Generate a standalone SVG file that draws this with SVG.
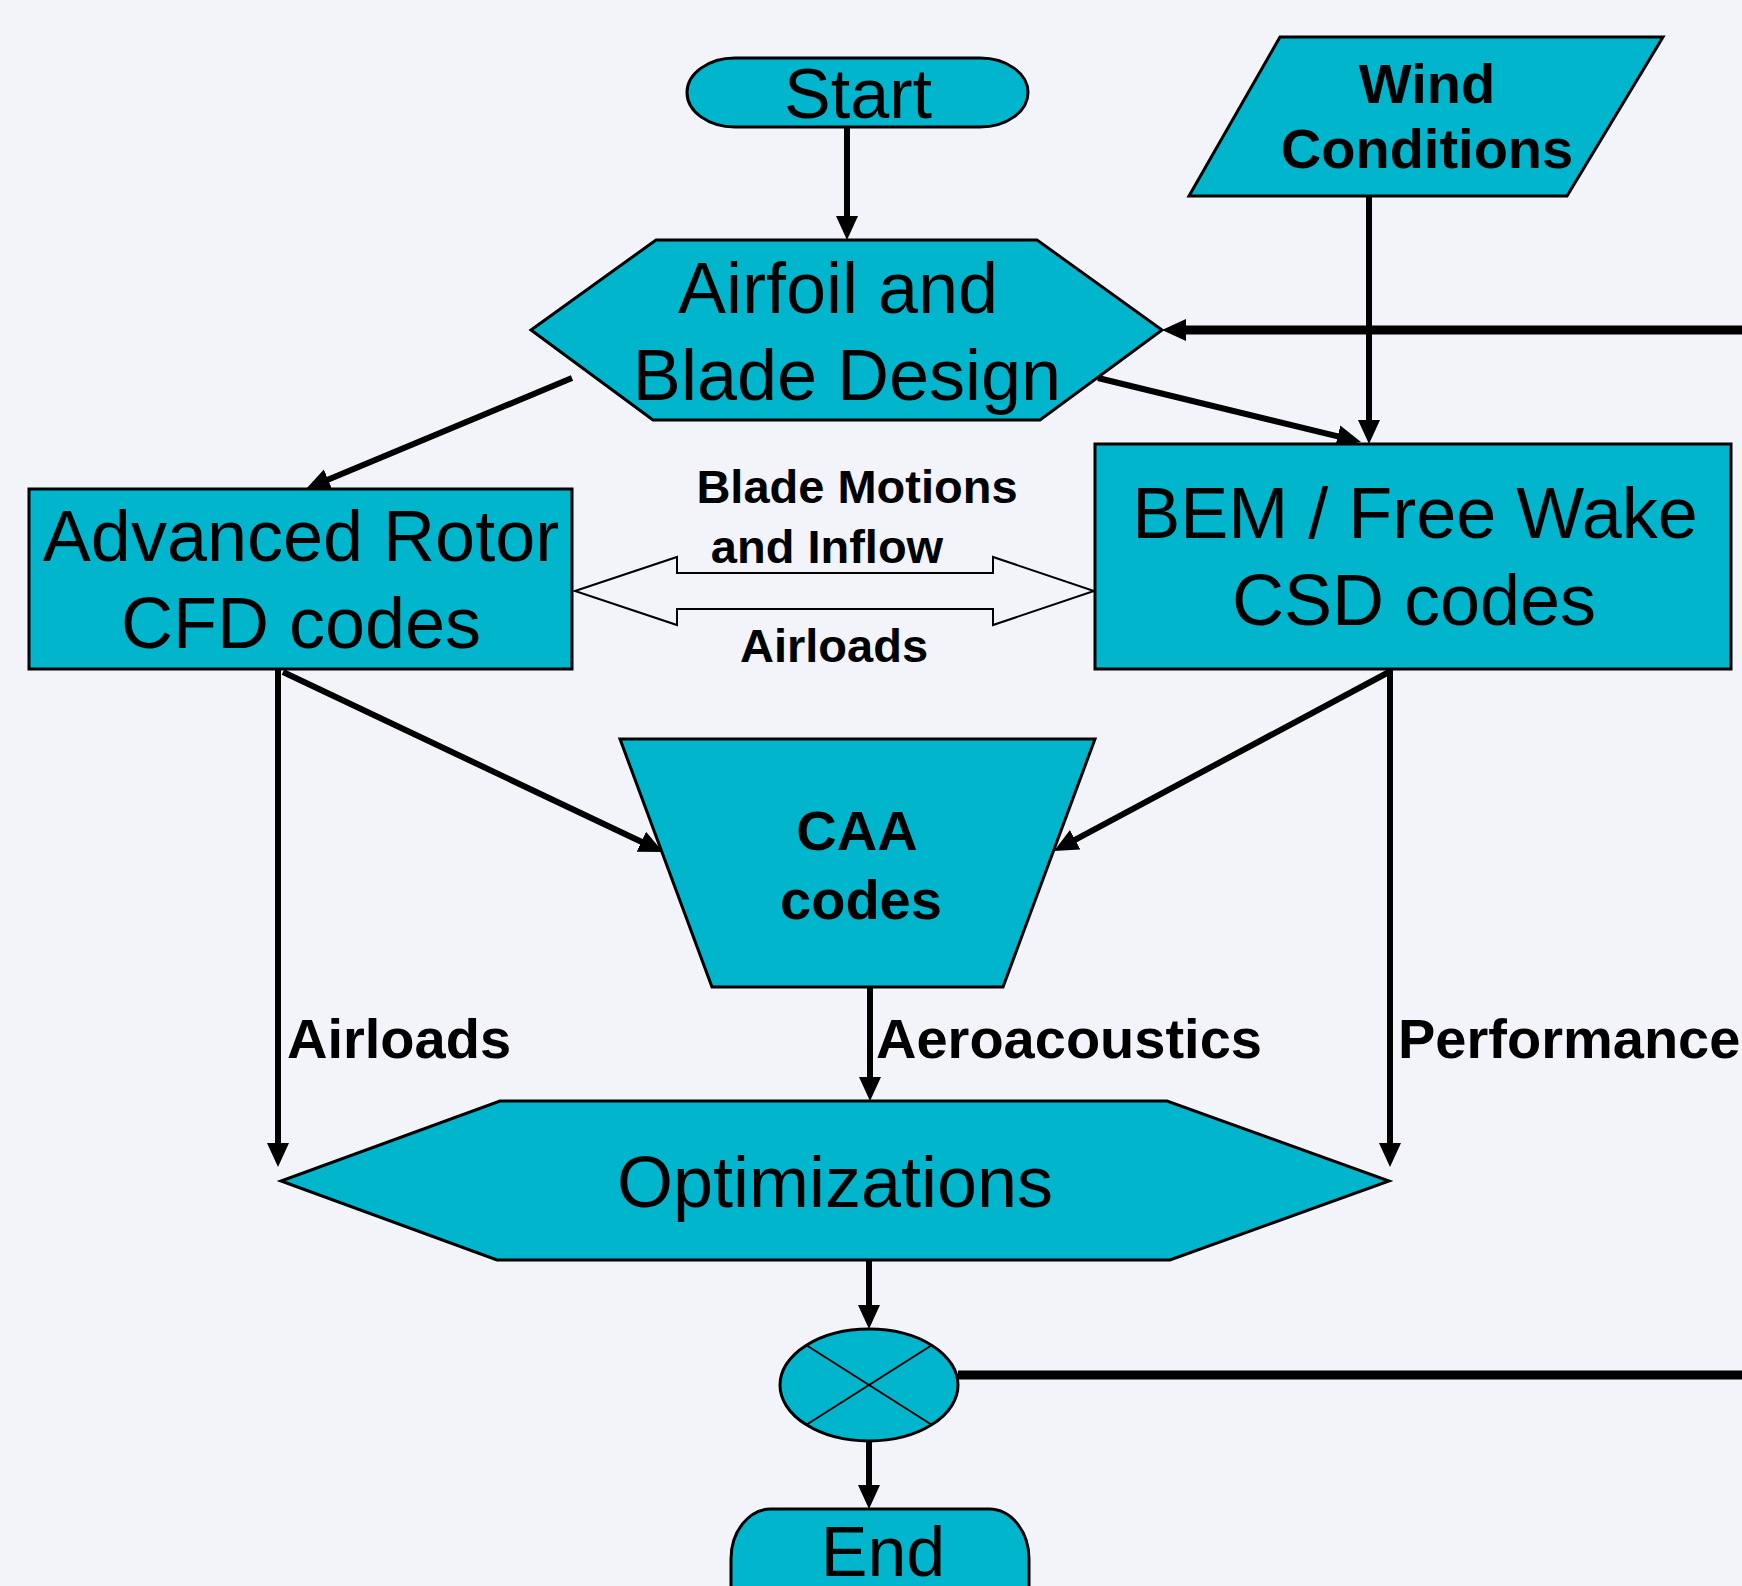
<svg xmlns="http://www.w3.org/2000/svg" width="1742" height="1586" viewBox="0 0 1742 1586">
<defs>
<style>
.shape{fill:#00B5CC;stroke:#000;stroke-width:3;stroke-linejoin:miter}
.t{font-family:"Liberation Sans",Arial,sans-serif;font-size:72px;fill:#000;text-anchor:middle}
.b{font-family:"Liberation Sans",Arial,sans-serif;font-weight:bold;font-size:56px;fill:#000}
.bs{font-family:"Liberation Sans",Arial,sans-serif;font-weight:bold;font-size:47px;fill:#000;text-anchor:middle}
.c{fill:none;stroke:#000;stroke-width:6;marker-end:url(#ah)}
.fb{fill:none;stroke:#000;stroke-width:9}
</style>
<marker id="ah" markerUnits="userSpaceOnUse" markerWidth="26" markerHeight="24" refX="14" refY="12" orient="auto" viewBox="0 0 26 24">
<path d="M0,1 L24,12 L0,23 Z" fill="#000"/>
</marker>
</defs>
<rect x="0" y="0" width="1742" height="1586" fill="#F2F4F9"/>

<g id="connectors">
<line class="c" x1="847" y1="127" x2="847" y2="230"/>
<line class="c" x1="1369" y1="196" x2="1369" y2="434"/>
<line class="fb" x1="1742" y1="330" x2="1180" y2="330"/>
<line class="c" x1="1180" y1="330" x2="1172" y2="330" style="stroke-width:9"/>
<line class="c" x1="572" y1="378" x2="315.2" y2="485.1"/>
<line class="c" x1="1098" y1="378" x2="1351.3" y2="439.6"/>
<line class="c" x1="283" y1="672" x2="654" y2="847.7"/>
<line class="c" x1="1389" y1="672" x2="1062.8" y2="846.3"/>
<line class="c" x1="278" y1="669" x2="278" y2="1157"/>
<line class="c" x1="870" y1="987" x2="870" y2="1091"/>
<line class="c" x1="1390" y1="669" x2="1390" y2="1157"/>
<line class="c" x1="869" y1="1260" x2="869" y2="1319"/>
<line class="c" x1="869" y1="1441" x2="869" y2="1499"/>
<line class="fb" x1="958" y1="1375" x2="1742" y2="1375"/>
<polygon points="575,591 677,557 677,573 993,573 993,557 1094,591 993,625 993,609 677,609 677,625" fill="#F2F4F9" stroke="#000" stroke-width="2"/>
<text class="bs" x="857" y="503">Blade Motions</text>
<text class="bs" x="827" y="563">and Inflow</text>
<text class="bs" x="834" y="662">Airloads</text>
<text class="b" x="287" y="1058">Airloads</text>
<text class="b" x="876" y="1058">Aeroacoustics</text>
<text class="b" x="1398" y="1058">Performance</text>
</g>

<g id="start">
<rect class="shape" x="687" y="58" width="341" height="69" rx="48" ry="34.5"/>
<text class="t" x="858" y="118" style="font-size:70px">Start</text>
</g>

<g id="wind">
<polygon class="shape" points="1280,37 1663,37 1567,196 1189,196"/>
<text class="b" x="1427" y="103" text-anchor="middle">Wind</text>
<text class="b" x="1427" y="168" text-anchor="middle">Conditions</text>
</g>

<g id="design">
<polygon class="shape" points="656,240 1037,240 1162,330 1040,420 653,420 531,330"/>
<text class="t" x="838" y="313">Airfoil and</text>
<text class="t" x="847" y="400">Blade Design</text>
</g>

<g id="cfd">
<rect class="shape" x="29" y="489" width="543" height="180"/>
<text class="t" x="301" y="561">Advanced Rotor</text>
<text class="t" x="301" y="648">CFD codes</text>
</g>

<g id="bem">
<rect class="shape" x="1095" y="444" width="636" height="225"/>
<text class="t" x="1415" y="538">BEM / Free Wake</text>
<text class="t" x="1414" y="625">CSD codes</text>
</g>

<g id="caa">
<polygon class="shape" points="620,739 1095,739 1003,987 712,987"/>
<text class="b" x="857" y="850" text-anchor="middle">CAA</text>
<text class="b" x="861" y="919" text-anchor="middle">codes</text>
</g>

<g id="optimizations">
<polygon class="shape" points="500,1101 1167,1101 1389,1181 1170,1260 497,1260 281,1181"/>
<text class="t" x="835" y="1207">Optimizations</text>
</g>

<g id="decision">
<ellipse class="shape" cx="869" cy="1385" rx="89" ry="56"/>
<line x1="806" y1="1345" x2="932" y2="1425" stroke="#000" stroke-width="2"/>
<line x1="932" y1="1345" x2="806" y2="1425" stroke="#000" stroke-width="2"/>
</g>

<g id="end">
<rect class="shape" x="731" y="1509" width="298" height="140" rx="40" ry="50"/>
<text class="t" x="883" y="1576" style="font-size:70px">End</text>
</g>
</svg>
